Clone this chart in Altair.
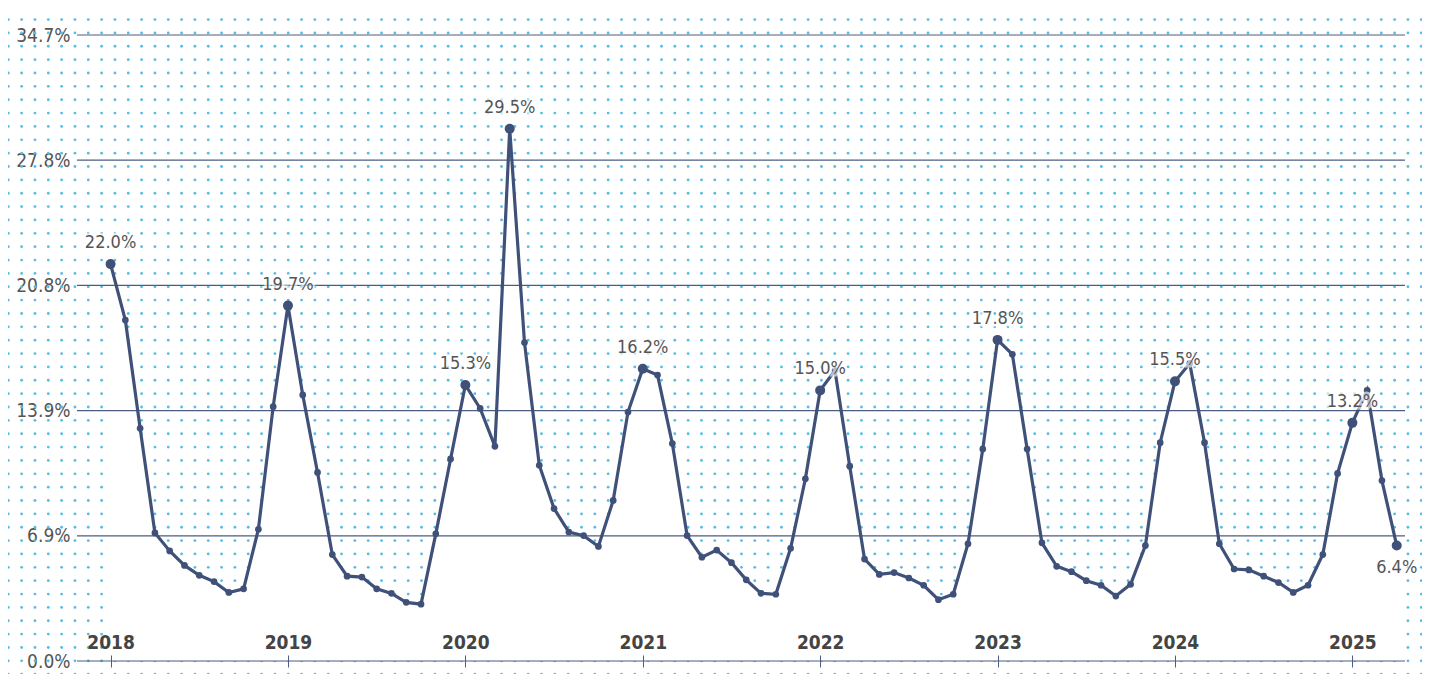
import altair as alt
import numpy as np
import pandas as pd

# ---------------- data ----------------
START_YEAR = 2018
YEAR_LABELS = ["2018", "2019", "2020", "2021", "2022", "2023", "2024", "2025"]
YEAR_TICK_MONTHS = [0, 12, 24, 36, 48, 60, 72, 84]

VALUES_2018 = [22.0, 18.9, 12.9, 7.1, 6.1, 5.3, 4.75, 4.4, 3.8, 4.0, 7.3, 14.1]
VALUES_2019 = [19.7, 14.75, 10.45, 5.9, 4.7, 4.65, 4.0, 3.75, 3.25, 3.15, 7.05, 11.2]
VALUES_2020 = [15.3, 14.0, 11.9, 29.5, 17.65, 10.85, 8.45, 7.15, 6.95, 6.35, 8.9, 13.8]
VALUES_2021 = [16.2, 15.85, 12.05, 6.95, 5.75, 6.15, 5.45, 4.5, 3.75, 3.7, 6.25, 10.1]
VALUES_2022 = [15.0, 16.1, 10.8, 5.65, 4.8, 4.9, 4.6, 4.2, 3.4, 3.7, 6.5, 11.75]
VALUES_2023 = [17.8, 17.0, 11.75, 6.55, 5.25, 4.95, 4.45, 4.2, 3.6, 4.25, 6.4, 12.1]
VALUES_2024 = [15.5, 16.5, 12.1, 6.5, 5.1, 5.05, 4.7, 4.35, 3.8, 4.2, 5.9, 10.4]
VALUES_2025 = [13.2, 15.0, 10.0, 6.4]

VALUES = (VALUES_2018 + VALUES_2019 + VALUES_2020 + VALUES_2021 +
          VALUES_2022 + VALUES_2023 + VALUES_2024 + VALUES_2025)

LABELED_ABOVE = [0, 12, 24, 27, 36, 48, 60, 72, 84]
LABELED_BELOW = [87]

Y_TICKS = [0.0, 6.94, 13.88, 20.82, 27.76, 34.7]

# ---------------- layout / style ----------------
W, H = 1328, 626
PAD_L, PAD_T, PAD_R, PAD_B = 69, 27, 17, 13
X_MIN, X_MAX = -2.27, 87.56
Y_MAX = 34.7

FONT = "DejaVu Sans Condensed, Liberation Sans, sans-serif"
LINE_COLOR = "#3f5179"
GRID_COLOR = "#4d5c80"
DOT_COLOR = "#58bde3"
TEXT_COLOR = "#555555"

# decorative dotted background texture (pixel spacing of the reference pattern)
PAT_DX, PAT_DY = 13.33, 13.36
PAT_X0, PAT_Y0 = 0.3, 11.56
px_per_m = W / (X_MAX - X_MIN)
px_per_v = H / Y_MAX
cols = np.arange(0, 107)
rows = np.arange(0, 50)
gx, gy = np.meshgrid(PAT_X0 + cols * PAT_DX, PAT_Y0 + rows * PAT_DY)
dots = pd.DataFrame({
    "m": (X_MIN + (gx.ravel() - PAD_L) / px_per_m),
    "v": (Y_MAX - (gy.ravel() - PAD_T) / px_per_v),
})

# ---------------- tables ----------------
df = pd.DataFrame({"m": list(range(len(VALUES))), "v": VALUES})
df["label"] = [f"{v:.1f}%" for v in VALUES]
above = df.iloc[LABELED_ABOVE]
below = df.iloc[LABELED_BELOW]
big = df.iloc[LABELED_ABOVE + LABELED_BELOW]
grid = pd.DataFrame({"v": Y_TICKS})

year_expr = "'' + (%d + round(datum.value / 12))" % START_YEAR

x_enc = alt.X(
    "m:Q",
    scale=alt.Scale(domain=[X_MIN, X_MAX], nice=False, zero=False),
    axis=alt.Axis(
        values=YEAR_TICK_MONTHS, labelExpr=year_expr, title=None, grid=False,
        domain=False, ticks=True, tickSize=12, tickColor=GRID_COLOR, tickWidth=1,
        offset=-6, labelFont=FONT, labelFontSize=19, labelFontWeight="bold",
        labelColor="#444444", labelPadding=-19, labelBaseline="alphabetic",
        labelFlush=False, labelOverlap=False, zindex=1,
    ),
)
y_enc = alt.Y(
    "v:Q",
    scale=alt.Scale(domain=[0, Y_MAX], nice=False, zero=False),
    axis=alt.Axis(
        values=Y_TICKS, labelExpr="format(datum.value, '.1f') + '%'", title=None,
        grid=False, domain=False, ticks=False, labelPadding=7, labelFont=FONT,
        labelFontSize=19, labelColor=TEXT_COLOR, labelOverlap=False,
    ),
)

dots_layer = alt.Chart(dots).mark_circle(size=8, color=DOT_COLOR, opacity=1).encode(x=x_enc, y=y_enc)
area_layer = alt.Chart(df).mark_area(color="white", opacity=1).encode(x=x_enc, y=y_enc)
grid_layer = alt.Chart(grid).mark_rule(color=GRID_COLOR, strokeWidth=1.2).encode(
    y=y_enc, x=alt.value(0), x2=alt.value(W))
line_layer = alt.Chart(df).mark_line(color=LINE_COLOR, strokeWidth=3.2).encode(x=x_enc, y=y_enc)
pts_layer = alt.Chart(df).mark_circle(size=45, color=LINE_COLOR, opacity=1).encode(x=x_enc, y=y_enc)
big_layer = alt.Chart(big).mark_circle(size=100, color=LINE_COLOR, opacity=1).encode(x=x_enc, y=y_enc)

LABEL_SIZE = 18

def labels(data, dy):
    halo = alt.Chart(data).mark_text(
        font=FONT, fontSize=LABEL_SIZE, dy=dy, baseline="middle", align="center",
        stroke="white", strokeWidth=5, strokeOpacity=0.65, fill="white", fillOpacity=0.65,
    ).encode(x=x_enc, y=y_enc, text="label:N")
    txt = alt.Chart(data).mark_text(
        font=FONT, fontSize=LABEL_SIZE, dy=dy, baseline="middle", align="center", color=TEXT_COLOR,
    ).encode(x=x_enc, y=y_enc, text="label:N")
    return [halo, txt]

layers = [dots_layer, area_layer, grid_layer, line_layer, pts_layer, big_layer]
layers += labels(above, -21) + labels(below, 22)

chart = alt.layer(*layers).properties(
    width=W, height=H,
    autosize=alt.AutoSizeParams(type="none"),
    padding={"left": PAD_L, "top": PAD_T, "right": PAD_R, "bottom": PAD_B},
    background="white",
).configure_view(stroke=None)

chart.save("out.html", embed_options={"renderer": "svg", "actions": False})
